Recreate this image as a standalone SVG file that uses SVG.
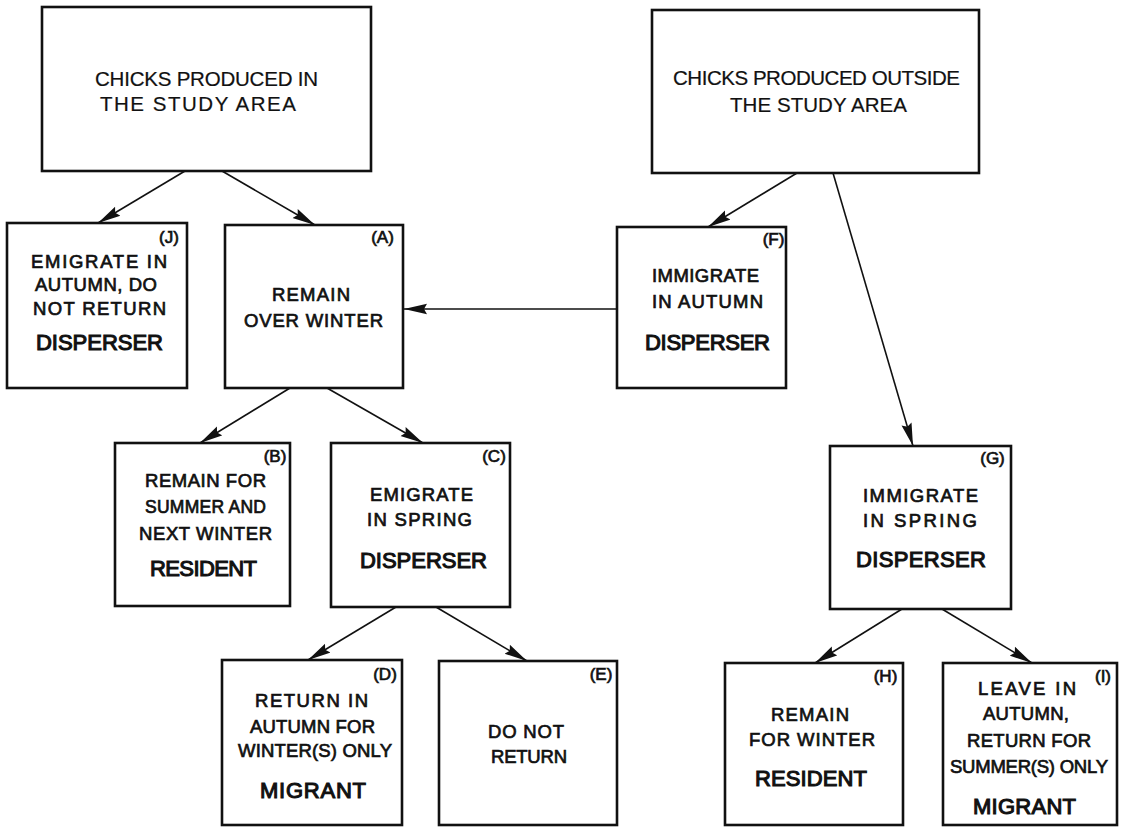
<svg xmlns="http://www.w3.org/2000/svg" width="1125" height="827" viewBox="0 0 1125 827">
<style>
.box{fill:#fff;stroke:#111;stroke-width:2.6}
.t{font-family:"Liberation Sans",Arial,sans-serif;font-size:18.5px;fill:#111;text-anchor:middle;stroke:#111;stroke-width:0.7}
.h{font-family:"Liberation Sans",Arial,sans-serif;font-size:20.5px;fill:#111;text-anchor:middle;stroke:#111;stroke-width:0.2}
.b{font-family:"Liberation Sans",Arial,sans-serif;font-size:22px;fill:#111;text-anchor:middle;stroke:#111;stroke-width:1.1}
.l{font-family:"Liberation Sans",Arial,sans-serif;font-size:17px;fill:#111;text-anchor:middle;stroke:#111;stroke-width:0.7}
.c{fill:none;stroke:#111;stroke-width:1.6}
</style>
<defs>
<marker id="ah" markerUnits="userSpaceOnUse" markerWidth="24" markerHeight="12" viewBox="0 0 24 12" refX="23" refY="6" orient="auto">
<path d="M0,0.8 L23,6 L0,11.2 L3,6 z" fill="#111"/>
</marker>
</defs>
<rect width="1125" height="827" fill="#fff"/>

<g id="connectors">
<line class="c" x1="185" y1="171" x2="98" y2="223" marker-end="url(#ah)"/>
<line class="c" x1="222" y1="171" x2="315" y2="225" marker-end="url(#ah)"/>
<line class="c" x1="797" y1="173" x2="708" y2="227" marker-end="url(#ah)"/>
<line class="c" x1="833" y1="173" x2="913" y2="446" marker-end="url(#ah)"/>
<line class="c" x1="617" y1="309" x2="404" y2="309" marker-end="url(#ah)"/>
<line class="c" x1="290" y1="388" x2="200" y2="443" marker-end="url(#ah)"/>
<line class="c" x1="327" y1="388" x2="423" y2="443" marker-end="url(#ah)"/>
<line class="c" x1="396" y1="607" x2="308" y2="660" marker-end="url(#ah)"/>
<line class="c" x1="436" y1="607" x2="527" y2="661" marker-end="url(#ah)"/>
<line class="c" x1="902" y1="609" x2="815" y2="663" marker-end="url(#ah)"/>
<line class="c" x1="942" y1="609" x2="1032" y2="663" marker-end="url(#ah)"/>
</g>

<g id="node-top-left">
<rect class="box" x="42" y="7" width="329" height="164"/>
<text class="h" x="206.5" y="86" textLength="223" lengthAdjust="spacing">CHICKS PRODUCED IN</text>
<text class="h" x="198" y="111" textLength="196" lengthAdjust="spacing">THE STUDY AREA</text>
</g>

<g id="node-top-right">
<rect class="box" x="652" y="10" width="327" height="163"/>
<text class="h" x="816.5" y="85" textLength="287" lengthAdjust="spacing">CHICKS PRODUCED OUTSIDE</text>
<text class="h" x="818.5" y="112" textLength="177" lengthAdjust="spacing">THE STUDY AREA</text>
</g>

<g id="node-J">
<rect class="box" x="7" y="223" width="180" height="165"/>
<text class="l" x="169" y="243">(J)</text>
<text class="t" x="99" y="268" textLength="136" lengthAdjust="spacing">EMIGRATE IN</text>
<text class="t" x="96" y="291" textLength="122" lengthAdjust="spacing">AUTUMN, DO</text>
<text class="t" x="99.5" y="315" textLength="133" lengthAdjust="spacing">NOT RETURN</text>
<text class="b" x="99.5" y="350" textLength="127" lengthAdjust="spacing">DISPERSER</text>
</g>

<g id="node-A">
<rect class="box" x="225" y="225" width="178" height="163"/>
<text class="l" x="382.5" y="243">(A)</text>
<text class="t" x="311" y="301" textLength="78" lengthAdjust="spacing">REMAIN</text>
<text class="t" x="313.5" y="327" textLength="139" lengthAdjust="spacing">OVER WINTER</text>
</g>

<g id="node-F">
<rect class="box" x="617" y="227" width="169" height="161"/>
<text class="l" x="773.5" y="245">(F)</text>
<text class="t" x="705.5" y="282" textLength="107" lengthAdjust="spacing">IMMIGRATE</text>
<text class="t" x="707.5" y="308" textLength="111" lengthAdjust="spacing">IN AUTUMN</text>
<text class="b" x="707.5" y="350" textLength="125" lengthAdjust="spacing">DISPERSER</text>
</g>

<g id="node-B">
<rect class="box" x="115" y="443" width="175" height="163"/>
<text class="l" x="275" y="462">(B)</text>
<text class="t" x="205.5" y="487" textLength="121" lengthAdjust="spacing">REMAIN FOR</text>
<text class="t" x="205.5" y="513" textLength="121" lengthAdjust="spacing" style="font-size:17.5px">SUMMER AND</text>
<text class="t" x="205.5" y="540" textLength="133" lengthAdjust="spacing">NEXT WINTER</text>
<text class="b" x="203.5" y="576" textLength="107" lengthAdjust="spacing">RESIDENT</text>
</g>

<g id="node-C">
<rect class="box" x="331" y="443" width="179" height="164"/>
<text class="l" x="494" y="462">(C)</text>
<text class="t" x="421.5" y="501" textLength="103" lengthAdjust="spacing">EMIGRATE</text>
<text class="t" x="419.5" y="526" textLength="105" lengthAdjust="spacing">IN SPRING</text>
<text class="b" x="423.5" y="568" textLength="127" lengthAdjust="spacing">DISPERSER</text>
</g>

<g id="node-D">
<rect class="box" x="222" y="660" width="180" height="165"/>
<text class="l" x="385" y="680">(D)</text>
<text class="t" x="311.5" y="707" textLength="113" lengthAdjust="spacing">RETURN IN</text>
<text class="t" x="312.5" y="733" textLength="125" lengthAdjust="spacing">AUTUMN FOR</text>
<text class="t" x="315" y="757" textLength="154" lengthAdjust="spacing">WINTER(S) ONLY</text>
<text class="b" x="313" y="798" textLength="106" lengthAdjust="spacing">MIGRANT</text>
</g>

<g id="node-E">
<rect class="box" x="439" y="661" width="178" height="164"/>
<text class="l" x="601" y="680">(E)</text>
<text class="t" x="526" y="738" textLength="76" lengthAdjust="spacing">DO NOT</text>
<text class="t" x="529" y="763" textLength="76" lengthAdjust="spacing">RETURN</text>
</g>

<g id="node-G">
<rect class="box" x="830" y="446" width="181" height="163"/>
<text class="l" x="992.5" y="464">(G)</text>
<text class="t" x="920.5" y="502" textLength="115" lengthAdjust="spacing">IMMIGRATE</text>
<text class="t" x="920" y="527" textLength="114" lengthAdjust="spacing">IN SPRING</text>
<text class="b" x="921" y="567" textLength="130" lengthAdjust="spacing">DISPERSER</text>
</g>

<g id="node-H">
<rect class="box" x="725" y="663" width="178" height="162"/>
<text class="l" x="885.5" y="682">(H)</text>
<text class="t" x="810" y="721" textLength="78" lengthAdjust="spacing">REMAIN</text>
<text class="t" x="812" y="746" textLength="126" lengthAdjust="spacing">FOR WINTER</text>
<text class="b" x="811" y="786" textLength="112" lengthAdjust="spacing">RESIDENT</text>
</g>

<g id="node-I">
<rect class="box" x="943" y="663" width="174" height="162"/>
<text class="l" x="1103" y="682">(I)</text>
<text class="t" x="1027" y="695" textLength="98" lengthAdjust="spacing">LEAVE IN</text>
<text class="t" x="1026" y="720" textLength="86" lengthAdjust="spacing">AUTUMN,</text>
<text class="t" x="1029" y="747" textLength="124" lengthAdjust="spacing">RETURN FOR</text>
<text class="t" x="1029" y="773" textLength="158" lengthAdjust="spacing">SUMMER(S) ONLY</text>
<text class="b" x="1024.5" y="814" textLength="103" lengthAdjust="spacing">MIGRANT</text>
</g>
</svg>
